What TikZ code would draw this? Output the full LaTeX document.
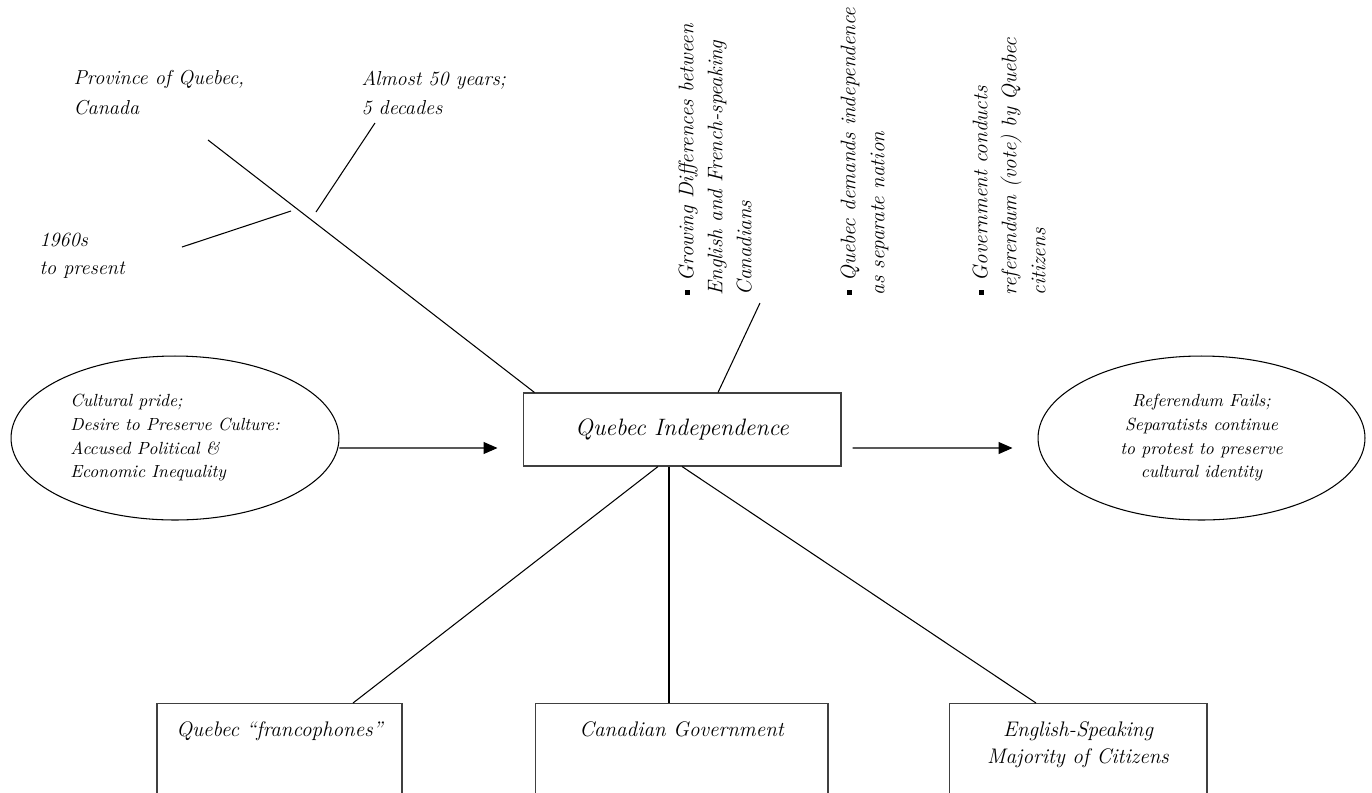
\documentclass[tikz,border=0pt]{standalone}
\usetikzlibrary{shapes.geometric, arrows.meta, calc}
\newcommand{\sqbullet}{\rule[2pt]{3pt}{3pt}\hspace{5pt}}

\begin{document}
\begin{tikzpicture}[
    x=0.02cm, y=-0.02cm,
    line width=0.6pt,
    note/.style={align=left, inner sep=0pt, font=\fontsize{11.5}{17}\selectfont\itshape},
    event/.style={rotate=90, anchor=north west, align=left, inner sep=0pt, font=\fontsize{12}{16.5}\selectfont\itshape},
    oval/.style={draw, ellipse, inner sep=0pt, minimum width=6.56cm, minimum height=3.28cm, font=\fontsize{10}{13.5}\selectfont\itshape},
    hub/.style={draw=black!75, minimum width=6.36cm, minimum height=1.46cm, font=\fontsize{13.5}{16}\selectfont\itshape},
    actor/.style={draw=black!75, anchor=north, align=center, inner xsep=0pt, inner ysep=0.37cm, text depth=2cm, font=\fontsize{12}{15}\selectfont\itshape},
    flow/.style={-{Triangle[length=0.28cm, width=0.24cm]}}
  ]
  \clip (0,0) rectangle (1372,792);

  % central issue
  \node[hub] (qi) at (682,429.5) {Quebec Independence};

  % where and when
  \node[note, anchor=west] (where) at (73,93) {Province of Quebec,\\Canada};
  \node[note, anchor=west] (span) at (361,93) {Almost 50 years;\\5 decades};
  \node[note, anchor=west, font=\fontsize{11.5}{16}\selectfont\itshape] (when) at (39,256) {1960s\\to present};
  \coordinate (wherestem) at (208,140);
  \coordinate (spanstem) at (375,123);
  \coordinate (spanfoot) at (316,212);
  \coordinate (whenstem) at (182,247);
  \coordinate (whenfoot) at (291,211);
  \draw (wherestem) -- ($(qi.north west)+(12,0)$);
  \draw (spanstem) -- (spanfoot);
  \draw (whenstem) -- (whenfoot);

  % events
  \node[event] (ev1) at (678,296) {\sqbullet Growing Differences between\\English and French-speaking\\Canadians};
  \node[event] (ev2) at (840,296) {\sqbullet Quebec demands independence\\as separate nation};
  \node[event] (ev3) at (972,296) {\sqbullet Government conducts\\referendum (vote) by Quebec\\citizens};
  \coordinate (ev1stem) at (760,303);
  \draw (ev1stem) -- ($(qi.north)+(36,0)$);

  % cause and result
  \node[oval, align=left] (cause) at (175,438) {Cultural pride;\\Desire to Preserve Culture:\\Accused Political \&\\Economic Inequality};
  \node[oval, align=center, minimum width=6.54cm] (result) at (1201.5,438) {Referendum Fails;\\Separatists continue\\to protest to preserve\\cultural identity};
  \draw[flow] ($(cause.east)+(0,10)$) -- ($(qi.west)+(-25,18.5)$);
  \draw[flow] ($(qi.east)+(11,18.5)$) -- ($(result.west)+(-25,10)$);

  % people involved
  \node[actor, minimum width=4.9cm] (franco) at (279.5,703) {Quebec ``francophones''};
  \node[actor, minimum width=5.86cm] (govt) at (681.5,703) {Canadian Government};
  \node[actor, minimum width=5.16cm] (anglo) at (1078,703) {English-Speaking\\Majority of Citizens};
  \draw ($(qi.south)+(-24,0)$) -- ($(franco.north)+(73.5,0)$);
  \draw ($(qi.south)+(-13,0)$) -- ($(govt.north)+(-12.5,0)$);
  \draw (qi.south) -- ($(anglo.north)+(-42,0)$);
\end{tikzpicture}
\end{document}
